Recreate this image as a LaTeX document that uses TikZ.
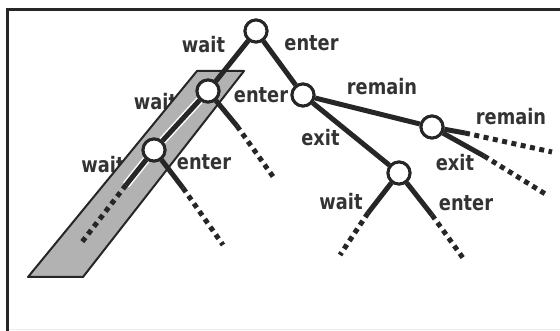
\documentclass[tikz,border=0pt]{standalone}
\usepackage{fontspec}
\usepackage{graphicx}
\setmainfont{DejaVu Sans}
\newcommand\talltxt[1]{\scalebox{1}[1.2]{#1}}
\begin{document}
\begin{tikzpicture}[x=1pt,y=-1pt,
  state/.style={circle,draw=black!85,line width=3pt,fill=white,minimum size=22pt,inner sep=0pt},
  edge/.style={draw=black!85,line width=5pt},
  leafedge/.style={draw=black!85,line width=5pt,dash pattern=on 5pt off 4.5pt},
  halo/.style={preaction={draw=white,line width=8pt}},
  lbl/.style={font=\bfseries\fontsize{17.8}{19}\selectfont,text=black!80,inner sep=0pt,anchor=center},
  band/.style={fill=black!30,draw=black!85,line width=2pt,line join=round}]
\useasboundingbox (0,0) rectangle (560,331);
% frame
\draw[black!85,line width=3pt] (7,331) -- (7,10) -- (560,10);
\draw[black!8,line width=1pt] (9,330) -- (560,330);
% labels
\node[lbl] (lw0) at (203.5,45) {\talltxt{wait}};
\node[lbl] (le0) at (311.5,43) {\talltxt{enter}};
\node[lbl] (lw1) at (155.5,102) {\talltxt{wait}};
\node[lbl] (le1) at (261,95) {\talltxt{enter}};
\node[lbl] (lw3) at (103,165) {\talltxt{wait}};
\node[lbl] (le3) at (204,162) {\talltxt{enter}};
\node[lbl] (lr2) at (382,87) {\talltxt{remain}};
\node[lbl] (lx2) at (320.5,138) {\talltxt{exit}};
\node[lbl] (lr4) at (511,117) {\talltxt{remain}};
\node[lbl] (lx4) at (455,163) {\talltxt{exit}};
\node[lbl] (lw5) at (341,202) {\talltxt{wait}};
\node[lbl] (le5) at (466,203) {\talltxt{enter}};
% shaded band
\draw[band] (197,71) -- (244,71) -- (83,277) -- (28,277) -- cycle;
% states
\node[state] (n0) at (256,31) {};
\node[state] (n1) at (208,91) {};
\node[state] (n2) at (303,95) {};
\node[state] (n3) at (154,150) {};
\node[state] (n4) at (432,127) {};
\node[state] (n5) at (399,173) {};
% leaf ends and change points
\coordinate (m1e) at (237,126);  \coordinate (l1e) at (274,178);
\coordinate (m3w) at (126,185);  \coordinate (l3w) at (82,242);
\coordinate (m3e) at (183,188);  \coordinate (l3e) at (223,245);
\coordinate (m4r) at (465,133);  \coordinate (l4r) at (552,152);
\coordinate (m4x) at (484,156);  \coordinate (l4x) at (547,195);
\coordinate (m5w) at (368,213);  \coordinate (l5w) at (340,255);
\coordinate (m5e) at (432,215);  \coordinate (l5e) at (463,258);
% connectors between states
\draw[edge] (n0) -- (n1);
\draw[edge] (n0) -- (n2);
\draw[edge,halo] (n1) -- (n3);
\draw[edge] (n2) -- (n4);
\draw[edge] (n2) -- (n5);
% connectors to the open leaves
\draw[edge] (n1) -- (m1e);  \draw[leafedge] (m1e) -- (l1e);
\draw[edge,halo] (n3) -- (m3w);  \draw[leafedge] (m3w) -- (l3w);
\draw[edge] (n3) -- (m3e);  \draw[leafedge] (m3e) -- (l3e);
\draw[edge] (n4) -- (m4r);  \draw[leafedge] (m4r) -- (l4r);
\draw[edge] (n4) -- (m4x);  \draw[leafedge] (m4x) -- (l4x);
\draw[edge] (n5) -- (m5w);  \draw[leafedge] (m5w) -- (l5w);
\draw[edge] (n5) -- (m5e);  \draw[leafedge] (m5e) -- (l5e);
% redraw states on top
\foreach \n in {n0,n1,n2,n3,n4,n5} {\node[state] at (\n) {};}
\end{tikzpicture}
\end{document}
